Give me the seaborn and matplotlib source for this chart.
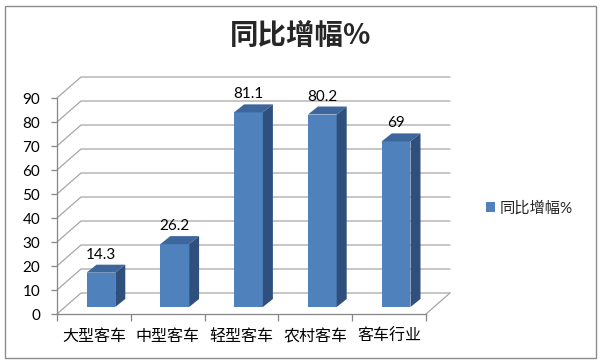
import numpy as np
import seaborn as sns
import matplotlib.pyplot as plt
from matplotlib.patches import Polygon, Rectangle
from matplotlib.transforms import ScaledTranslation

# data
categories = ['大型客车', '中型客车', '轻型客车', '农村客车', '客车行业']
growth = [14.3, 26.2, 81.1, 80.2, 69]
value_labels = ['14.3', '26.2', '81.1', '80.2', '69']
series_name = '同比增幅%'
yticks = list(range(0, 100, 10))

sns.set_theme(style='white')
plt.rcParams['font.family'] = ['Lato', 'Noto Sans CJK SC', 'DejaVu Sans']

W, H, DPI = 600, 363, 100
fig = plt.figure(figsize=(W / DPI, H / DPI), dpi=DPI)
fig.patch.set_facecolor('white')

# front plane of the 3D box, in pixels
x0, x1, y0, y1 = 57, 426, 314, 98
ax = fig.add_axes([x0 / W, 1 - y0 / H, (x1 - x0) / W, (y0 - y1) / H])
ax.patch.set_alpha(0)

px_x = (x1 - x0) / len(categories)
px_y = (y0 - y1) / 90


def d(px, py):
    # pixel offset -> data offset
    return px / px_x, py / px_y


grid_c = '#a6a6a6'
axis_c = '#868686'

# bars (front faces)
sns.barplot(x=categories, y=growth, color='#4F81BD', saturation=1, width=0.39,
            linewidth=0, ax=ax, label=series_name, zorder=3)
ax.set_xlim(-0.5, 4.5)
ax.set_ylim(0, 90)

leg = ax.legend(loc='center left', bbox_to_anchor=(486 / W, 1 - 208 / H),
                bbox_transform=fig.transFigure, frameon=False, fontsize=11,
                handlelength=0.6, handleheight=0.6, handletextpad=0.3,
                borderpad=0, borderaxespad=0)

# walls and floor
bx, by = d(24, 21)
for v in yticks:
    ax.plot([-0.5, -0.5 + bx, 4.5 + bx], [v, v + by, v + by], color=grid_c,
            lw=0.9, clip_on=False, zorder=1)
ax.plot([4.5, 4.5 + bx], [0, by], color=grid_c, lw=0.9, clip_on=False, zorder=1)

# 3D bar faces
fx, fy = d(7, 7)
dx, dy = d(10, 8)
shift = ScaledTranslation(7 / DPI, 7 / DPI, fig.dpi_scale_trans)
for p in ax.patches:
    p.set_transform(ax.transData + shift)
    xl = p.get_x()
    xr = xl + p.get_width()
    h = p.get_height()
    top = [(xl + fx, h + fy), (xr + fx, h + fy),
           (xr + fx + dx, h + fy + dy), (xl + fx + dx, h + fy + dy)]
    side = [(xr + fx, fy), (xr + fx + dx, fy + dy),
            (xr + fx + dx, h + fy + dy), (xr + fx, h + fy)]
    ax.add_patch(Polygon(top, closed=True, fc='#3D679C', lw=0, zorder=3, clip_on=False))
    ax.add_patch(Polygon(side, closed=True, fc='#2F4F7C', lw=0, zorder=3, clip_on=False))

for i, (v, lbl) in enumerate(zip(growth, value_labels)):
    ax.annotate(lbl, (i, v), xytext=(7, 18), textcoords='offset pixels',
                ha='center', va='bottom', fontsize=11, color='black')

# axes styling
for name, s in ax.spines.items():
    s.set_visible(name in ('left', 'bottom'))
    s.set_color(axis_c)
    s.set_linewidth(0.9)
ax.set_yticks(yticks)
ax.set_xticks(range(len(categories)))
ax.set_xticklabels(categories)
ax.set_xticks(np.arange(-0.5, 5, 1), minor=True)
ax.tick_params(axis='y', left=True, length=4, width=0.9, color=axis_c, pad=8,
               labelsize=11, labelcolor='black')
ax.tick_params(axis='x', which='major', bottom=True, length=0, pad=11,
               labelsize=11.5, labelcolor='black')
ax.tick_params(axis='x', which='minor', bottom=True, length=5, width=0.9, color=axis_c)
ax.set_xlabel('')
ax.set_ylabel('')
ax.grid(False)

fig.text(301 / W, 1 - 37 / H, series_name, ha='center', va='center',
         fontsize=20.5, fontweight='bold', family=['Noto Sans CJK SC'])

fig.add_artist(Rectangle((5 / W, 1 - 358 / H), 591 / W, 352 / H,
                         transform=fig.transFigure, fill=False,
                         ec='#8c8c8c', lw=1))

plt.savefig('out.png', dpi=DPI)
